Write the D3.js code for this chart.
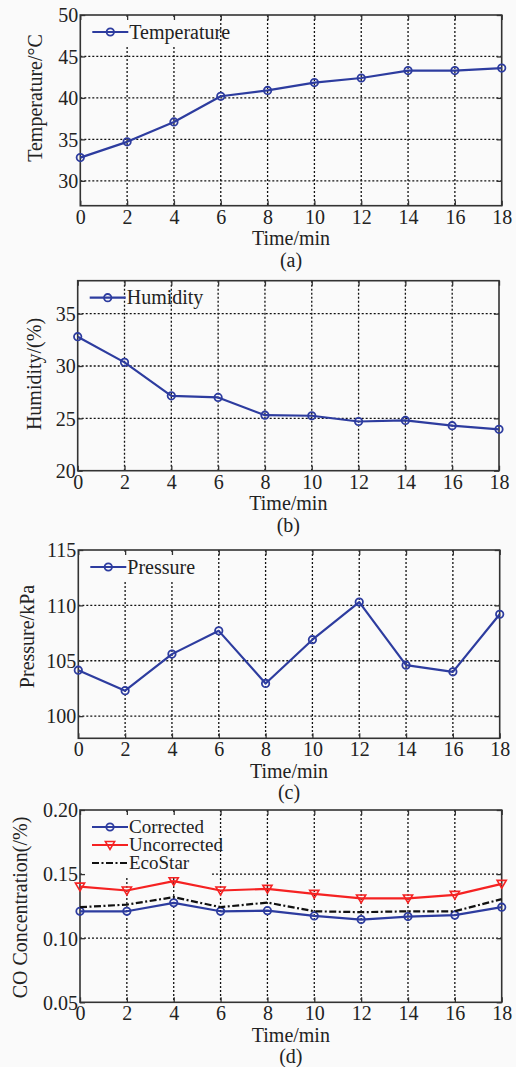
<!DOCTYPE html>
<html>
<head>
<meta charset="utf-8">
<script src="https://cdn.jsdelivr.net/npm/d3@7"></script>
<style>
  html, body { margin: 0; padding: 0; background: #fafafa; }
  svg { display: block; }
</style>
</head>
<body>
<svg id="fig" width="516" height="1067"></svg>
<script>
// Sampling times (min)
const timeMin = [0, 2, 4, 6, 8, 10, 12, 14, 16, 18];
const xTicks = [0, 2, 4, 6, 8, 10, 12, 14, 16, 18];

// (a) temperature, °C
const temperature = [32.8, 34.7, 37.1, 40.2, 40.9, 41.85, 42.4, 43.3, 43.3, 43.6];
const tempTicks = [30, 35, 40, 45, 50];

// (b) relative humidity, %
const humidity = [32.8, 30.35, 27.15, 27.0, 25.3, 25.25, 24.7, 24.8, 24.3, 23.95];
const humTicks = [20, 25, 30, 35];

// (c) pressure, kPa
const pressure = [104.15, 102.3, 105.6, 107.7, 102.95, 106.9, 110.3, 104.6, 104.0, 109.2];
const presTicks = [100, 105, 110, 115];

// (d) CO concentration, %
const coCorrected   = [0.121, 0.121, 0.1276, 0.121, 0.1215, 0.1174, 0.1145, 0.1169, 0.118, 0.1242];
const coUncorrected = [0.1403, 0.1372, 0.1445, 0.1372, 0.1385, 0.1346, 0.131, 0.131, 0.1338, 0.1424];
const coEcoStar     = [0.1242, 0.1262, 0.132, 0.1242, 0.1278, 0.121, 0.1203, 0.121, 0.121, 0.1305];
const coTicks = [0.05, 0.10, 0.15, 0.20];

const BLUE = "#2d3c9f";
const RED = "#f52222";
const BG = "#fafafa";
const FONT = "Liberation Serif, Times New Roman, serif";

const svg = d3.select("#fig").attr("font-family", FONT);

const panels = [
  {
    box: { l: 80.3, r: 501.7, t: 15, b: 205.7 },
    yDomain: [27, 50], yTicks: tempTicks, yFmt: d3.format("d"),
    yLabel: "Temperature/\u00B0C", yLabelX: 41.5, yLabelY: 98,
    caption: "(a)",
    legendCover: 135,
    series: [{ name: "Temperature", values: temperature, color: BLUE, marker: "circle" }]
  },
  {
    box: { l: 77.7, r: 499, t: 280.7, b: 470.7 },
    yDomain: [20, 38.15], yTicks: humTicks, yFmt: d3.format("d"),
    yLabel: "Humidity/(%)", yLabelX: 41, yLabelY: 374,
    caption: "(b)",
    legendCover: 0,
    series: [{ name: "Humidity", values: humidity, color: BLUE, marker: "circle" }]
  },
  {
    box: { l: 78.3, r: 499.7, t: 550, b: 738.3 },
    yDomain: [98, 115], yTicks: presTicks, yFmt: d3.format("d"),
    yLabel: "Pressure/kPa", yLabelX: 34, yLabelY: 636.5,
    caption: "(c)",
    legendCover: 120,
    series: [{ name: "Pressure", values: pressure, color: BLUE, marker: "circle" }]
  },
  {
    box: { l: 80, r: 501.7, t: 810, b: 1002.3 },
    yDomain: [0.05, 0.20], yTicks: coTicks, yFmt: d3.format(".2f"),
    yLabel: "CO Concentration(/%)", yLabelX: 27, yLabelY: 907.5,
    caption: "(d)",
    legendCover: 130,
    series: [
      { name: "Corrected", values: coCorrected, color: BLUE, marker: "circle" },
      { name: "Uncorrected", values: coUncorrected, color: RED, marker: "triangle" },
      { name: "EcoStar", values: coEcoStar, color: "#111", marker: "none", dash: "7,2.5,2,2.5" }
    ]
  }
];

function drawMarker(g, type, x, y, color) {
  if (type === "circle") {
    g.append("circle").attr("cx", x).attr("cy", y).attr("r", 3.7)
      .attr("fill", "none").attr("stroke", color).attr("stroke-width", 1.8);
  } else if (type === "triangle") {
    const s = 4.6;
    g.append("path")
      .attr("d", `M${x - s},${y - s * 0.75} L${x + s},${y - s * 0.75} L${x},${y + s * 0.95} Z`)
      .attr("fill", "none").attr("stroke", color).attr("stroke-width", 1.6);
  }
}

function label(sel) {
  return sel.attr("font-family", FONT).attr("font-size", 20).attr("fill", "#222");
}

panels.forEach(p => {
  const { l, r, t, b } = p.box;
  const x = d3.scaleLinear().domain([0, 18]).range([l, r]);
  const y = d3.scaleLinear().domain(p.yDomain).range([b, t]);
  const g = svg.append("g");

  // dotted grid
  const grid = g.append("g").attr("stroke", "#111").attr("stroke-width", 1.3)
    .attr("stroke-dasharray", "2,2");
  xTicks.slice(1, -1).forEach(v => {
    grid.append("line").attr("x1", x(v)).attr("x2", x(v)).attr("y1", t).attr("y2", b);
  });
  p.yTicks.forEach(v => {
    const yy = y(v);
    if (yy > t + 1 && yy < b - 1)
      grid.append("line").attr("x1", l).attr("x2", r).attr("y1", yy).attr("y2", yy);
  });

  // legend backdrop
  const nLeg = p.series.length;
  const legStep = 18;
  if (p.legendCover > 0) {
    g.append("rect").attr("x", l + 2).attr("y", t + 2)
      .attr("width", p.legendCover).attr("height", 10 + nLeg * legStep)
      .attr("fill", BG);
  }

  // axes with inward ticks on all four sides
  const tickLen = 5;
  const xB = d3.axisBottom(x).tickValues(xTicks).tickSize(-tickLen).tickFormat(d3.format("d"));
  const xT = d3.axisTop(x).tickValues(xTicks).tickSize(-tickLen).tickFormat("");
  const yL = d3.axisLeft(y).tickValues(p.yTicks).tickSize(-tickLen).tickFormat(p.yFmt);
  const yR = d3.axisRight(y).tickValues(p.yTicks).tickSize(-tickLen).tickFormat("");

  const styleAxis = sel => {
    sel.attr("font-family", FONT).attr("font-size", 20);
    sel.select(".domain").remove();
    sel.selectAll(".tick line").attr("stroke", "#333").attr("stroke-width", 1.3);
    sel.selectAll(".tick text").call(label);
  };
  g.append("g").attr("transform", `translate(0,${b})`).call(xB).call(styleAxis)
    .selectAll(".tick text").attr("y", 4).attr("dy", "0.71em");
  g.append("g").attr("transform", `translate(0,${t})`).call(xT).call(styleAxis);
  g.append("g").attr("transform", `translate(${l},0)`).call(yL).call(styleAxis)
    .selectAll(".tick text").attr("x", -2).attr("dy", "0.34em");
  g.append("g").attr("transform", `translate(${r},0)`).call(yR).call(styleAxis);

  // frame
  g.append("rect").attr("x", l).attr("y", t).attr("width", r - l).attr("height", b - t)
    .attr("fill", "none").attr("stroke", "#333").attr("stroke-width", 1.6);

  // series
  p.series.forEach(s => {
    const pts = timeMin.map((tm, i) => [x(tm), y(s.values[i])]);
    g.append("path").attr("d", d3.line()(pts))
      .attr("fill", "none").attr("stroke", s.color).attr("stroke-width", 2.2)
      .attr("stroke-linejoin", "round")
      .attr("stroke-dasharray", s.dash || null);
    pts.forEach(([px, py]) => drawMarker(g, s.marker, px, py, s.color));
  });

  // legend entries
  p.series.forEach((s, i) => {
    const ly = t + 17 + i * legStep;
    const x0 = l + 12, x1 = l + 48;
    g.append("line").attr("x1", x0).attr("x2", x1).attr("y1", ly).attr("y2", ly)
      .attr("stroke", s.color).attr("stroke-width", 2.2)
      .attr("stroke-dasharray", s.dash || null);
    drawMarker(g, s.marker, (x0 + x1) / 2, ly, s.color);
    g.append("text").attr("x", x1 + 1).attr("y", ly).attr("dy", "0.33em")
      .call(label).attr("font-size", p.series.length > 1 ? 19 : 20).text(s.name);
  });

  // axis titles and caption
  g.append("text").attr("x", (l + r) / 2).attr("y", b + 39.5)
    .attr("text-anchor", "middle").call(label).text("Time/min");
  g.append("text").attr("x", (l + r) / 2).attr("y", b + 61)
    .attr("text-anchor", "middle").call(label).text(p.caption);
  g.append("text")
    .attr("transform", `translate(${p.yLabelX},${p.yLabelY}) rotate(-90)`)
    .attr("text-anchor", "middle").call(label).text(p.yLabel);
});
</script>
</body>
</html>
